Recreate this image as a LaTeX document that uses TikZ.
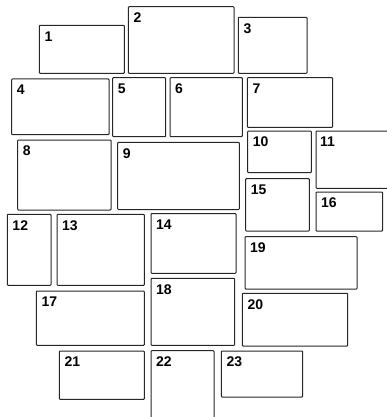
\documentclass[tikz,border=0pt]{standalone}
\usepackage{fontspec}
\setmainfont{Liberation Sans}
\begin{document}
\begin{tikzpicture}[x=1pt,y=-1pt,
  boxline/.style={draw=black!85,line width=1pt,rounded corners=0.8pt},
  numlabel/.style={anchor=north west,inner sep=0pt,font=\fontsize{14}{14}\selectfont\bfseries}]
\useasboundingbox (0,0) rectangle (387,417);
\newcommand{\bx}[5]{%
  \draw[boxline] (#2,#3) rectangle (#4,#5);
  \node[numlabel] (n#1) at (#2+5,#3+6) {#1};}
\bx{1}{39.3}{25.3}{124.3}{73.3}
\bx{2}{128.3}{6.7}{234}{73.3}
\bx{3}{238.3}{17.3}{307}{73.3}
\bx{4}{11.7}{79}{109}{134.7}
\bx{5}{112.7}{77.7}{165.7}{136.7}
\bx{6}{170}{77.7}{242.3}{136.7}
\bx{7}{247.3}{77.7}{332.7}{127.3}
\bx{8}{17.7}{140}{111}{210}
\bx{9}{117.7}{142.3}{239.3}{209.5}
\bx{10}{247.7}{131}{311.3}{172.7}
% box 11, open at the right
\draw[boxline] (387,131) -- (316,131) -- (316,188.3) -- (387,188.3);
\node[numlabel] (n11) at (316+4,131+6) {11};
\bx{12}{7.3}{214.3}{51}{285.3}
\bx{13}{57}{214.3}{144.3}{285.3}
\bx{14}{151}{213.5}{236}{273.3}
\bx{15}{245.7}{178.7}{309.3}{231}
\bx{16}{316}{192}{382.7}{231}
\bx{17}{36.3}{291}{144.3}{345.3}
\bx{18}{151}{278.3}{234.7}{345.3}
\bx{19}{245}{236.7}{357}{289}
\bx{20}{242.3}{293.3}{347.7}{346}
\bx{21}{59.3}{351}{144.3}{399.3}
% box 22, open at the bottom
\draw[boxline] (151,417) -- (151,350.7) -- (214,350.7) -- (214,417);
\node[numlabel] (n22) at (151+5,350.7+6) {22};
\bx{23}{221.3}{351}{302.7}{397}
\end{tikzpicture}
\end{document}
